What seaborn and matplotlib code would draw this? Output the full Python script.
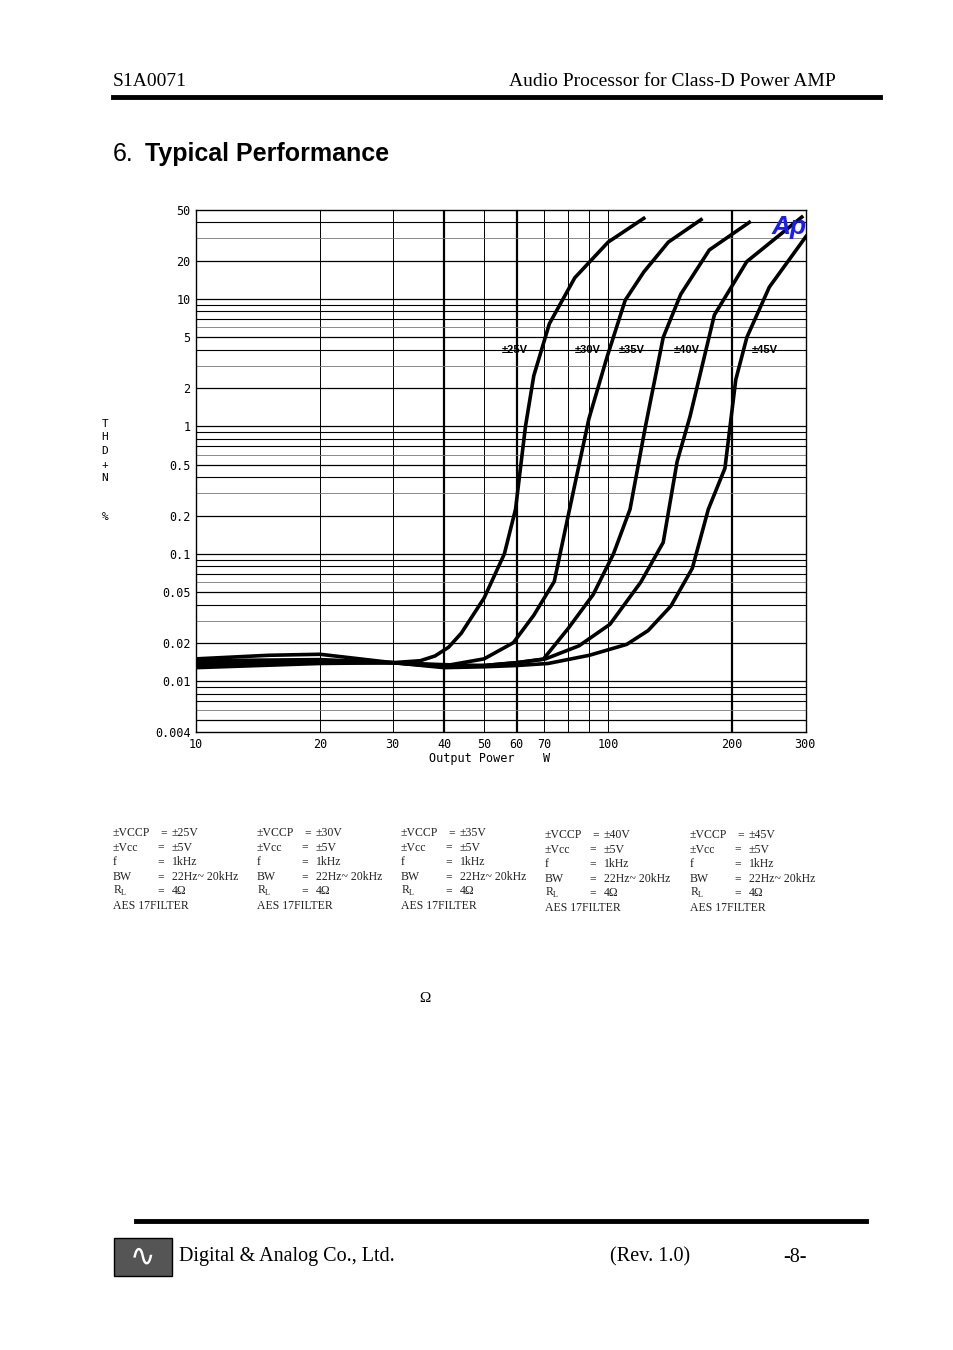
import numpy as np
import pandas as pd
import matplotlib
matplotlib.use("Agg")
import matplotlib.pyplot as plt
import seaborn as sns
from matplotlib.patches import Rectangle

supply_labels = ["±25V", "±30V", "±35V", "±40V", "±45V"]
p25 = [10, 15, 20, 30, 35, 38, 41, 44, 50, 56, 59.6, 63, 66, 72, 83, 100, 122]
t25 = [0.0150, 0.0160, 0.0163, 0.0140, 0.0145, 0.0158, 0.0185, 0.0238, 0.045, 0.100, 0.224, 1.0, 2.5, 6.4, 14.7, 28, 43]
p30 = [10, 20, 30, 40, 50, 58.9, 66, 74, 80, 89.8, 99.3, 110, 122, 140, 168]
t30 = [0.0135, 0.0142, 0.0140, 0.0132, 0.0150, 0.0201, 0.033, 0.0607, 0.2, 1.15, 3.48, 9.8, 16.3, 28, 42]
p35 = [10, 20, 30, 40, 50, 60, 69.6, 80, 92, 103, 113, 123, 136, 150, 176, 220]
t35 = [0.0145, 0.0148, 0.0140, 0.0130, 0.0133, 0.0140, 0.0149, 0.026, 0.048, 0.10, 0.224, 0.98, 5.0, 10.9, 24.3, 40]
p40 = [10, 20, 30, 40, 50, 60, 70.5, 85, 101, 120, 136, 147, 158, 181, 217, 295]
t40 = [0.0128, 0.0138, 0.0140, 0.0135, 0.0133, 0.0140, 0.0150, 0.019, 0.028, 0.060, 0.123, 0.53, 1.2, 7.5, 19.7, 44]
p45 = [10, 20, 30, 40, 50, 60, 71.5, 90, 111, 125, 142, 160, 175, 192, 204, 217, 246, 302]
t45 = [0.0140, 0.0140, 0.0140, 0.0128, 0.0130, 0.0133, 0.0138, 0.0160, 0.0195, 0.025, 0.039, 0.077, 0.224, 0.47, 2.33, 5.0, 12.4, 31]
label_x = [59.4, 89, 114, 155, 240]
label_y = 4.0
x_ticks = [10, 20, 30, 40, 50, 60, 70, 100, 200, 300]
y_ticks = [0.004, 0.01, 0.02, 0.05, 0.1, 0.2, 0.5, 1, 2, 5, 10, 20, 50]
y_ticklabels = ["0.004", "0.01", "0.02", "0.05", "0.1", "0.2", "0.5", "1", "2", "5", "10", "20", "50"]
vccp_values = ["±25V", "±30V", "±35V", "±40V", "±45V"]

frames = []
for lab, p, t in zip(supply_labels, [p25, p30, p35, p40, p45], [t25, t30, t35, t40, t45]):
    frames.append(pd.DataFrame({"P": p, "THD": t, "V": lab}))
df = pd.concat(frames)

fig = plt.figure(figsize=(9.54, 13.5), dpi=100)
W, H = 954, 1350
def fx(x): return x / W
def fy(y): return 1 - y / H

serif = "Liberation Serif"
fig.text(fx(113), fy(81), "S1A0071", fontsize=14, family=serif, va="center")
fig.text(fx(836), fy(81), "Audio Processor for Class-D Power AMP", fontsize=14, family=serif, va="center", ha="right")
fig.add_artist(plt.Line2D([fx(113), fx(880)], [fy(97), fy(97)], color="black", lw=3.5))
fig.text(fx(113), fy(154), "6.", fontsize=18, family="Liberation Sans", va="center")
fig.text(fx(145), fy(154), "Typical Performance", fontsize=18, family="Liberation Sans", weight="bold", va="center")

ax = fig.add_axes([fx(196), fy(732), (806 - 196) / W, (732 - 210) / H])
ax.set_xscale("log"); ax.set_yscale("log")
ax.set_xlim(10, 302); ax.set_ylim(0.004, 50)

for v in [20, 30, 50, 70, 80, 90, 100]:
    ax.axvline(v, color="black", lw=0.7, zorder=1)
for v in [40, 60, 200]:
    ax.axvline(v, color="black", lw=1.6, zorder=1)
for dec in [0.001, 0.01, 0.1, 1, 10]:
    for m in range(1, 10):
        v = dec * m
        if 0.004 < v < 50:
            major = m in (1, 2, 5)
            ax.axhline(v, color="black" if major else "#777777", lw=0.9 if major else 0.6, zorder=1)
for v in [0.007, 0.008, 0.009, 0.07, 0.08, 0.09, 0.7, 0.8, 0.9, 7, 8, 9, 0.04, 0.4, 4, 40]:
    ax.axhline(v, color="black", lw=0.8, zorder=1)

sns.lineplot(data=df, x="P", y="THD", hue="V", palette=["black"] * 5, lw=2.6,
             legend=False, ax=ax, zorder=3, sort=False)
for lab, lx in zip(supply_labels, label_x):
    ax.text(lx, label_y, lab, fontsize=8, weight="bold", family="Liberation Sans",
            ha="center", va="center", zorder=4)
ax.text(275, 37, "Ap", fontsize=19, weight="bold", style="italic", color="#1a1aff",
        family="Liberation Sans", ha="center", va="center", zorder=5)

ax.set_xticks(x_ticks); ax.set_xticklabels([str(v) for v in x_ticks])
ax.set_yticks(y_ticks); ax.set_yticklabels(y_ticklabels)
ax.minorticks_off()
ax.tick_params(length=0, labelsize=8.5, pad=4)
for t in ax.get_xticklabels() + ax.get_yticklabels():
    t.set_family("DejaVu Sans Mono")
for s in ax.spines.values():
    s.set_linewidth(1.0)
ax.set_xlabel(""); ax.set_ylabel("")
fig.text(fx(490), fy(759), "Output Power    W", fontsize=8.5, family="DejaVu Sans Mono", ha="center", va="center")
for i, ch in enumerate("THD+N"):
    fig.text(fx(105), fy(424 + i * 13.5), ch, fontsize=8, family="DejaVu Sans Mono", ha="center", va="center")
fig.text(fx(105), fy(517), "%", fontsize=8, family="DejaVu Sans Mono", ha="center", va="center")

cols = [113, 257, 401, 545, 690]
ys = [833, 833, 833, 835, 835]
for v, cx, y0 in zip(vccp_values, cols, ys):
    rows = [("±VCCP", v), ("±Vcc", "±5V"), ("f", "1kHz"), ("BW", "22Hz~ 20kHz"), ("R$_\\mathregular{L}$", "4Ω")]
    for i, (a, b) in enumerate(rows):
        yy = y0 + i * 14.6
        kw = dict(fontsize=8.5, family=serif, va="center", color="#222222")
        fig.text(fx(cx), fy(yy), a, **kw)
        fig.text(fx(cx + 47 if i == 0 else cx + 44), fy(yy), "=", **kw)
        fig.text(fx(cx + 59), fy(yy), b, **kw)
    fig.text(fx(cx), fy(y0 + 5 * 14.6), "AES 17FILTER", fontsize=8.5, family=serif, va="center", color="#222222")

fig.text(fx(425), fy(998), "Ω", fontsize=11, family=serif, ha="center", va="center")

fig.add_artist(plt.Line2D([fx(136), fx(866)], [fy(1221), fy(1221)], color="black", lw=3.5))
fig.add_artist(Rectangle((fx(114), fy(1276)), 58 / W, 38 / H, facecolor="#555555", edgecolor="black", lw=1))
fig.text(fx(143), fy(1257), "∿", fontsize=22, color="white", ha="center", va="center")
fig.text(fx(179), fy(1257), "Digital & Analog Co., Ltd.", fontsize=14.5, family=serif, va="center")
fig.text(fx(610), fy(1257), "(Rev. 1.0)", fontsize=14.5, family=serif, va="center")
fig.text(fx(783), fy(1257), "-8-", fontsize=14.5, family=serif, va="center")

fig.savefig("out.png", dpi=100)
